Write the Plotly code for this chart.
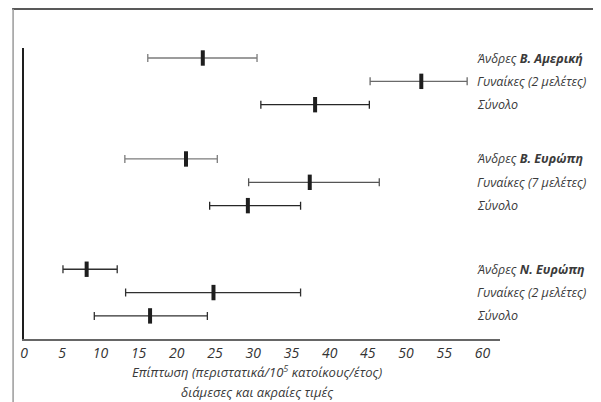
import plotly.graph_objects as go

# ---- data ----
groups = ["Β. Αμερική", "Β. Ευρώπη", "Ν. Ευρώπη"]
row_labels = [
    ["Άνδρες <b>Β. Αμερική</b>", "Γυναίκες (2 μελέτες)", "Σύνολο"],
    ["Άνδρες <b>Β. Ευρώπη</b>", "Γυναίκες (7 μελέτες)", "Σύνολο"],
    ["Άνδρες <b>Ν. Ευρώπη</b>", "Γυναίκες (2 μελέτες)", "Σύνολο"],
]
medians = [[23.4, 52.0, 38.1], [21.2, 37.4, 29.3], [8.2, 24.8, 16.5]]
lows = [[16.2, 45.3, 31.0], [13.2, 29.4, 24.3], [5.1, 13.3, 9.2]]
highs = [[30.5, 58.0, 45.2], [25.3, 46.5, 36.2], [12.2, 36.2, 24.0]]
x_ticks = [0, 5, 10, 15, 20, 25, 30, 35, 40, 45, 50, 55, 60]
x_title_lines = ["Επίπτωση (περιστατικά/10<sup>5</sup> κατοίκους/έτος)",
                 "διάμεσες και ακραίες τιμές"]

# ---- layout constants (figure sits at an 8px body offset) ----
W, H = 593, 394
ML, MR, MT, MB = 12, 101, 40, 63
group_offsets = [0.0, 4.24, 8.87]
row_step = 0.98
row_colors = [["#7c7c7c", "#6a6a6a", "#262626"],
              ["#7c7c7c", "#555555", "#262626"],
              ["#303030", "#303030", "#303030"]]
FONT = "Open Sans"

pw = W - ML - MR
ph = H - MT - MB
def px(p):
    return (p - ML) / pw
def py(p):
    return (H - MB - p) / ph

fig = go.Figure()
ann = []
for g in range(len(groups)):
    for r in range(3):
        y = group_offsets[g] + r * row_step
        m, lo, hi = medians[g][r], lows[g][r], highs[g][r]
        col = row_colors[g][r]
        fig.add_trace(go.Scatter(
            x=[m], y=[y], mode="markers",
            marker=dict(symbol="line-ns", size=11, line=dict(width=4, color="#1e1e1e")),
            error_x=dict(type="data", symmetric=False, array=[hi - m], arrayminus=[m - lo],
                         color=col, thickness=1.3, width=4),
            showlegend=False, hoverinfo="skip"))
        ann.append(dict(x=px(467), xref="paper", y=y, yref="y",
                        xanchor="left", yanchor="middle", showarrow=False,
                        text="<i>" + row_labels[g][r] + "</i>",
                        font=dict(family=FONT, size=12.5, color="#3a3a3a")))

for i, (line, ypix) in enumerate(zip(x_title_lines, [363, 384])):
    ann.append(dict(x=px(247), xref="paper", y=py(ypix), yref="paper",
                    xanchor="center", yanchor="middle", showarrow=False,
                    text="<i>" + line + "</i>",
                    font=dict(family=FONT, size=13, color="#3a3a3a")))

shapes = [
    dict(type="line", xref="paper", yref="paper", x0=px(0), x1=px(W + 5), y0=py(1), y1=py(1),
         line=dict(color="#222222", width=1.5)),
    dict(type="line", xref="paper", yref="paper", x0=px(1), x1=px(1), y0=py(1), y1=py(H + 5),
         line=dict(color="#9a9a9a", width=1.5)),
]

fig.update_layout(
    width=W, height=H,
    margin=dict(l=ML, r=MR, t=MT, b=MB, pad=0),
    paper_bgcolor="white", plot_bgcolor="white",
    font=dict(family=FONT, size=13, color="#333333"),
    annotations=ann, shapes=shapes,
    xaxis=dict(range=[0, 62.3], tickvals=x_ticks, ticktext=[f"<i>{t}</i>" for t in x_ticks],
               showgrid=False, zeroline=False, showline=True, linecolor="#666666", linewidth=2,
               ticks="", ticklen=0,
               tickfont=dict(family=FONT, size=14, color="#333333")),
    yaxis=dict(range=[11.8, -0.42], showgrid=False, zeroline=False, showticklabels=False,
               showline=True, linecolor="#1e1e1e", linewidth=1.5, ticks=""),
)

fig.write_html("out.html")
